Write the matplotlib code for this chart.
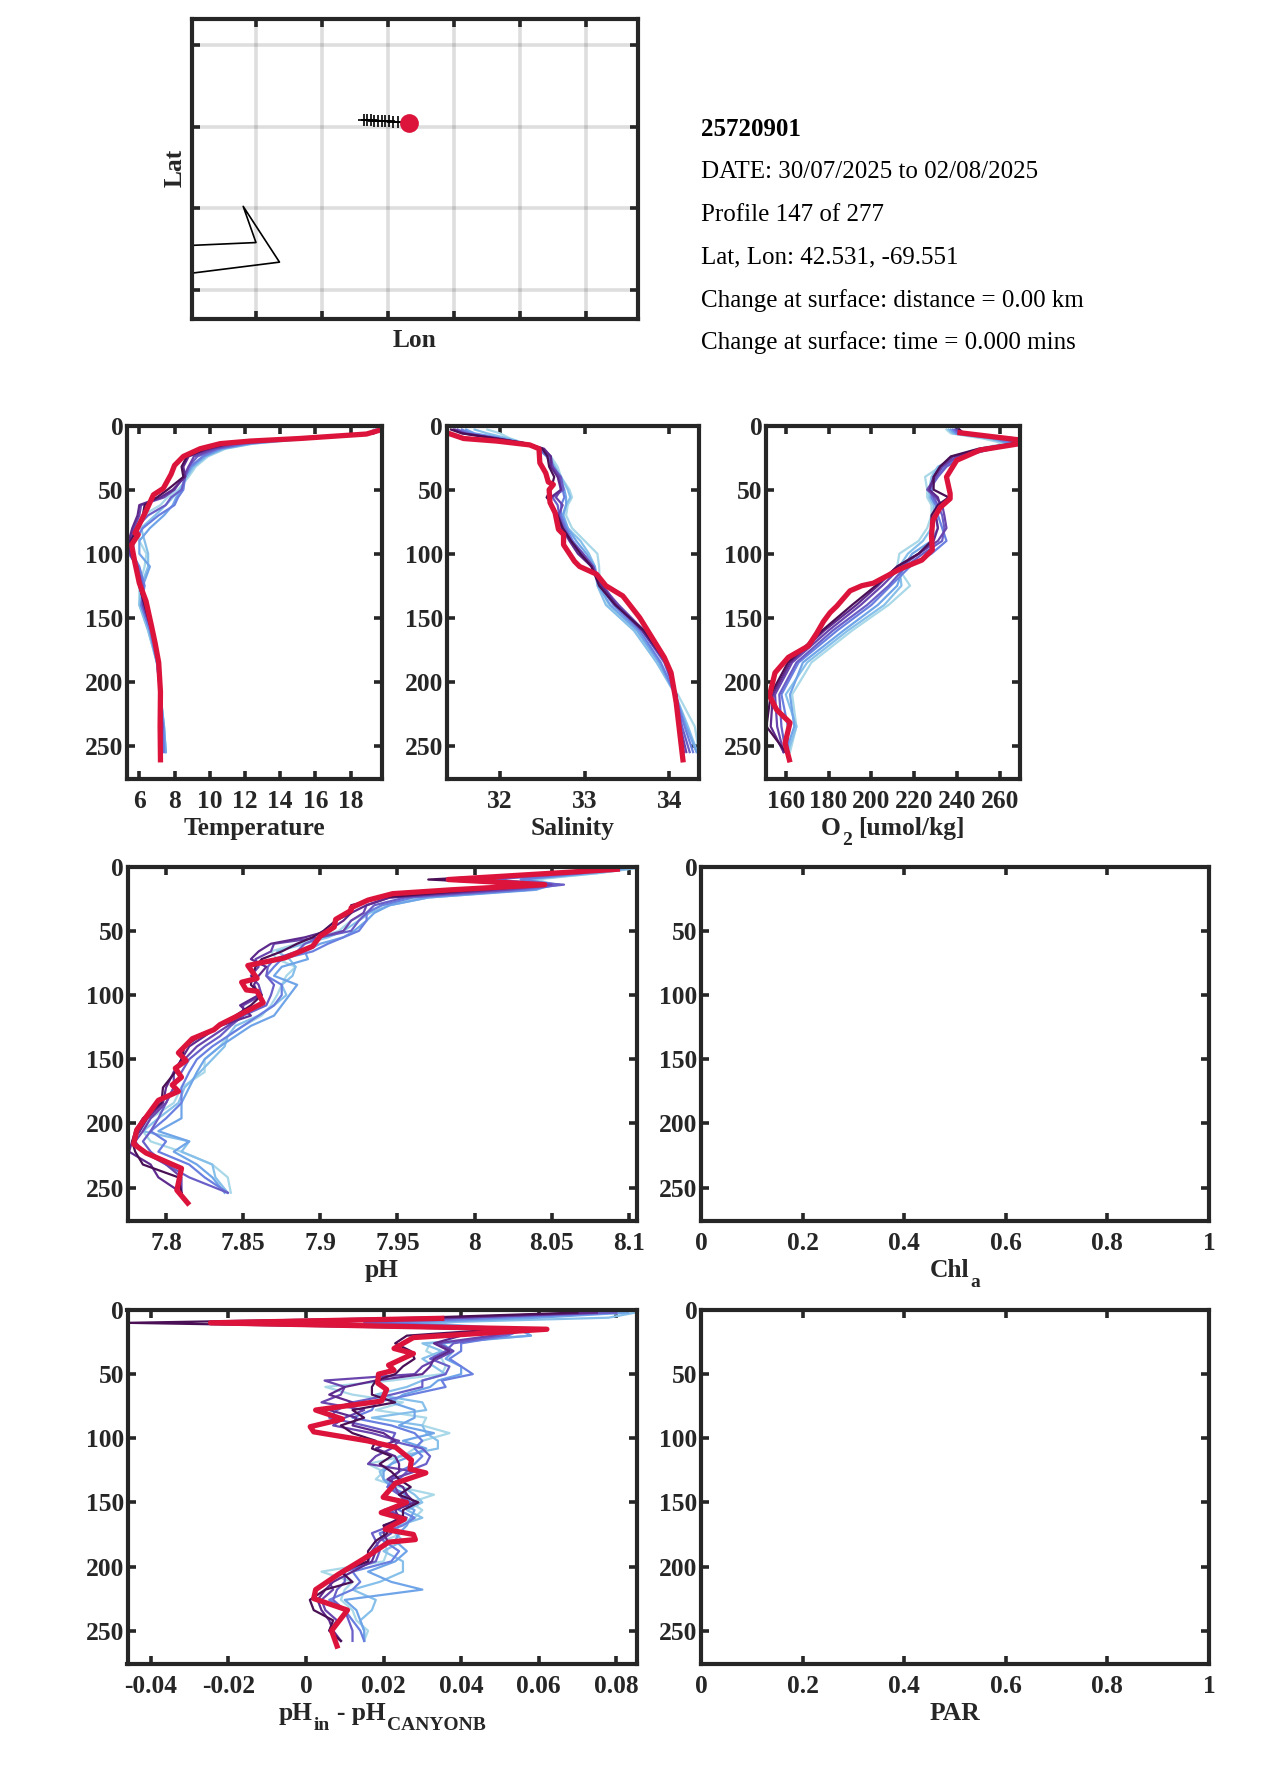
import matplotlib
matplotlib.use('Agg')
import matplotlib.pyplot as plt

plt.rcParams['font.family'] = ['Liberation Serif', 'DejaVu Serif']
plt.rcParams['font.weight'] = 'bold'

W, H = 1275, 1771
DARK = '#262626'
RED = '#dc143c'
FONT = 18.4
INFO_FONT = 18.0
# oldest (light blue) to newest (dark purple)
line_colors = ['#a9d8e8', '#86c0ea', '#6fa5e8', '#6a80e0', '#6a5fc8', '#6a45ae', '#5f2a8e', '#4a0f55']

depth_ticks = [0, 50, 100, 150, 200, 250]
max_depth = 276

# map panel
lon_ticks = [-69.92, -69.76, -69.60, -69.44, -69.28, -69.12]
lat_ticks = [41.3, 41.9, 42.5, 43.1]
track_lon = [-69.660, -69.652, -69.643, -69.635, -69.624, -69.616, -69.608, -69.598, -69.588, -69.576, -69.551]
track_lat = [42.550, 42.549, 42.548, 42.546, 42.544, 42.543, 42.541, 42.539, 42.537, 42.535, 42.531]
coast_lon = [-70.10, -69.921, -69.952, -69.864, -70.10]
coast_lat = [41.625, 41.649, 41.915, 41.505, 41.415]

info_lines = ['DATE: 30/07/2025 to 02/08/2025', 'Profile 147 of 277', 'Lat, Lon: 42.531, -69.551',
              'Change at surface: distance = 0.00 km', 'Change at surface: time = 0.000 mins']

# temperature, salinity, oxygen share these depths
upper_depth = [3, 6, 10, 14, 18, 24, 32, 40, 50, 56, 62, 70, 80, 90, 100, 110, 125, 140, 160, 185, 210, 235, 255]

temp_lines = [
    [19.3, 19.1, 15.8, 12.5, 10.9, 9.9, 9.2, 8.8, 8.2, 7.6, 7.2, 6.2, 5.9, 6.0, 6.4, 6.3, 6.0, 6.0, 6.5, 7.0, 7.2, 7.4, 7.5],
    [19.4, 19.0, 15.5, 12.4, 10.8, 9.8, 9.1, 8.7, 8.3, 7.9, 7.5, 6.9, 6.1, 6.3, 6.5, 6.5, 6.1, 6.0, 6.5, 7.0, 7.2, 7.4, 7.5],
    [19.5, 19.1, 15.3, 12.3, 10.7, 9.7, 9.0, 8.6, 8.4, 8.1, 7.9, 7.4, 6.6, 6.0, 6.0, 6.6, 6.2, 6.1, 6.6, 7.0, 7.2, 7.4, 7.5],
    [19.6, 19.2, 15.2, 12.1, 10.5, 9.6, 8.9, 8.6, 8.5, 8.2, 8.0, 7.1, 6.2, 5.7, 5.6, 6.0, 6.3, 6.1, 6.6, 7.0, 7.2, 7.35, 7.4],
    [19.6, 19.2, 15.0, 11.9, 10.4, 9.3, 8.8, 8.6, 8.4, 7.8, 7.5, 6.5, 5.8, 5.5, 5.4, 5.9, 6.2, 6.2, 6.7, 7.1, 7.2, 7.3, 7.3],
    [19.7, 19.2, 14.9, 11.5, 10.2, 9.1, 8.8, 8.5, 8.0, 7.4, 6.1, 6.0, 5.7, 5.4, 5.5, 5.9, 6.1, 6.2, 6.7, 7.1, 7.2, 7.3, 7.2],
    [19.7, 19.3, 14.8, 11.2, 10.0, 8.8, 8.5, 8.6, 7.9, 7.2, 6.0, 5.9, 5.6, 5.4, 5.5, 5.8, 6.0, 6.3, 6.7, 7.1, 7.2, 7.2, 7.2],
    [19.8, 19.3, 14.8, 11.0, 9.8, 8.7, 8.4, 8.5, 7.6, 7.0, 6.3, 6.2, 5.9, 5.5, 5.6, 5.8, 6.0, 6.3, 6.7, 7.1, 7.2, 7.2, 7.2],
]
temp_red_depth = [3, 6.5, 10, 12, 14, 18, 24, 31, 38, 49, 54, 66, 76, 84, 85, 93, 107, 123, 137, 157, 170, 185, 208, 235, 261]
temp_red = [19.77, 18.9, 15.1, 12.3, 10.6, 9.45, 8.5, 8.0, 7.8, 7.36, 6.8, 6.4, 6.04, 5.75, 5.94, 5.56, 5.75, 6.0, 6.38, 6.7, 6.9, 7.1, 7.2, 7.18, 7.2]

sal_lines = [
    [31.85, 32.0, 32.12, 32.3, 32.5, 32.6, 32.68, 32.72, 32.82, 32.85, 32.8, 32.78, 32.85, 33.0, 33.15, 33.17, 33.18, 33.28, 33.6, 33.85, 34.1, 34.3, 34.35],
    [31.7, 31.85, 32.1, 32.3, 32.48, 32.58, 32.65, 32.72, 32.8, 32.83, 32.78, 32.75, 32.8, 32.95, 33.05, 33.12, 33.15, 33.25, 33.58, 33.85, 34.07, 34.22, 34.33],
    [31.6, 31.7, 32.05, 32.3, 32.46, 32.56, 32.64, 32.7, 32.76, 32.78, 32.78, 32.74, 32.8, 32.9, 33.02, 33.12, 33.16, 33.3, 33.62, 33.88, 34.07, 34.2, 34.32],
    [31.55, 31.65, 32.0, 32.28, 32.45, 32.55, 32.62, 32.7, 32.74, 32.76, 32.72, 32.72, 32.78, 32.86, 32.98, 33.1, 33.18, 33.34, 33.65, 33.9, 34.07, 34.18, 34.28],
    [31.5, 31.6, 31.98, 32.28, 32.46, 32.58, 32.62, 32.72, 32.75, 32.62, 32.68, 32.7, 32.76, 32.84, 32.96, 33.08, 33.22, 33.38, 33.68, 33.94, 34.08, 34.15, 34.24],
    [31.47, 31.58, 31.97, 32.3, 32.5, 32.6, 32.62, 32.7, 32.72, 32.66, 32.74, 32.69, 32.74, 32.84, 32.98, 33.1, 33.2, 33.4, 33.7, 33.96, 34.08, 34.13, 34.2],
    [31.45, 31.56, 31.96, 32.32, 32.52, 32.6, 32.6, 32.68, 32.72, 32.6, 32.6, 32.66, 32.73, 32.82, 32.92, 33.08, 33.2, 33.37, 33.68, 33.96, 34.08, 34.12, 34.17],
    [31.42, 31.55, 31.95, 32.33, 32.5, 32.56, 32.58, 32.64, 32.6, 32.55, 32.62, 32.68, 32.74, 32.84, 32.95, 33.08, 33.17, 33.36, 33.7, 33.97, 34.08, 34.12, 34.16],
]
sal_red_depth = [5.5, 10, 12, 15, 18, 29, 37, 44, 46, 50, 60, 68, 81, 85, 93, 106, 110, 116, 125, 133, 150, 181, 193, 216, 261]
sal_red = [31.37, 31.57, 31.96, 32.35, 32.46, 32.47, 32.54, 32.57, 32.63, 32.58, 32.59, 32.65, 32.69, 32.75, 32.75, 32.88, 32.94, 33.14, 33.25, 33.45, 33.65, 33.94, 34.02, 34.08, 34.16]

oxy_lines = [
    [235, 237, 252, 262, 250, 238, 232, 225, 226, 226, 228, 228, 226, 222, 213, 212, 218, 208, 191, 172, 163, 165, 162],
    [236, 238, 255, 264, 252, 240, 231, 228, 227, 227, 229, 229, 228, 224, 217, 213, 214, 206, 189, 170, 160, 165, 161],
    [237, 239, 256, 265, 253, 241, 233, 229, 228, 228, 230, 230, 231, 228, 219, 215, 212, 203, 187, 168, 162, 164, 160],
    [238, 240, 258, 266, 255, 242, 234, 230, 228, 228, 230, 231, 233, 235, 228, 218, 209, 200, 184, 166, 158, 161, 161],
    [239, 241, 262, 267, 256, 243, 235, 231, 227, 229, 231, 233, 234, 233, 224, 216, 208, 198, 182, 165, 157, 158, 160],
    [240, 242, 265, 268, 257, 240, 233, 230, 226, 230, 233, 234, 235, 231, 222, 214, 205, 195, 180, 163, 155, 156, 159],
    [241, 243, 268, 267, 253, 238, 232, 229, 227, 231, 232, 230, 231, 229, 222, 212, 203, 193, 178, 162, 154, 153, 159],
    [241, 243, 267, 266, 250, 237, 232, 229, 229, 236, 231, 228, 228, 228, 222, 212, 202, 191, 177, 161, 153, 151, 160],
]
oxy_red_depth = [5.5, 11, 14, 19, 27, 40, 53, 57, 64, 74, 86, 97, 105, 112, 123, 125, 129, 141, 146, 153, 162, 172, 181, 193, 211, 222, 232, 248, 261]
oxy_red = [241.3, 268.5, 269.3, 250.7, 239.8, 235, 236.7, 236.7, 232, 228.6, 228, 228.4, 223.5, 213.3, 200.9, 195.5, 190, 183.8, 180.7, 177.6, 174.5, 170.6, 161.2, 155, 152.4, 155.8, 162, 159.7, 161.7]

ph_depth = [1, 5, 10, 14, 18, 24, 30, 36, 42, 50, 55, 60, 66, 72, 78, 85, 92, 100, 108, 116, 124, 132, 140, 150, 160, 172, 184, 196, 206, 214, 222, 232, 242, 254]
ph_lines = [
    [8.105, 8.08, 8.04, 8.052, 8.03, 7.965, 7.94, 7.93, 7.92, 7.912, 7.9, 7.885, 7.868, 7.872, 7.884, 7.878, 7.875, 7.872, 7.868, 7.862, 7.85, 7.84, 7.835, 7.825, 7.825, 7.81, 7.805, 7.79, 7.785, 7.79, 7.81, 7.83, 7.84, 7.842],
    [8.105, 8.08, 8.035, 8.05, 8.035, 7.97, 7.945, 7.932, 7.925, 7.915, 7.905, 7.89, 7.872, 7.88, 7.884, 7.882, 7.875, 7.878, 7.87, 7.86, 7.845, 7.84, 7.838, 7.83, 7.822, 7.812, 7.808, 7.795, 7.785, 7.815, 7.81, 7.83, 7.832, 7.84],
    [8.1, 8.075, 8.03, 8.05, 8.04, 7.97, 7.945, 7.935, 7.93, 7.922, 7.915, 7.9, 7.89, 7.892, 7.875, 7.87, 7.885, 7.88, 7.875, 7.87, 7.855, 7.845, 7.835, 7.825, 7.82, 7.815, 7.81, 7.81, 7.795, 7.815, 7.805, 7.82, 7.83, 7.838],
    [8.095, 8.07, 8.03, 8.055, 8.035, 7.96, 7.94, 7.93, 7.93, 7.925, 7.915, 7.905, 7.895, 7.875, 7.87, 7.865, 7.875, 7.875, 7.87, 7.86, 7.85, 7.84, 7.83, 7.82, 7.815, 7.81, 7.81, 7.8, 7.79, 7.8, 7.795, 7.815, 7.825, 7.84],
    [8.09, 8.07, 8.01, 8.058, 8.025, 7.955, 7.935, 7.93, 7.925, 7.92, 7.9, 7.89, 7.885, 7.87, 7.866, 7.865, 7.87, 7.868, 7.865, 7.85, 7.842, 7.835, 7.825, 7.815, 7.81, 7.805, 7.8, 7.795, 7.79, 7.785, 7.79, 7.8, 7.815, 7.84],
    [8.09, 8.06, 7.995, 8.05, 8.02, 7.945, 7.93, 7.928, 7.92, 7.915, 7.9, 7.87, 7.868, 7.858, 7.86, 7.855, 7.86, 7.862, 7.85, 7.85, 7.84, 7.83, 7.82, 7.812, 7.805, 7.805, 7.8, 7.79, 7.785, 7.78, 7.785, 7.8, 7.81, 7.81],
    [8.085, 8.055, 7.975, 8.045, 8.01, 7.945, 7.93, 7.92, 7.915, 7.905, 7.89, 7.868, 7.86, 7.855, 7.865, 7.86, 7.857, 7.86, 7.848, 7.855, 7.835, 7.825, 7.815, 7.81, 7.805, 7.8, 7.798, 7.788, 7.783, 7.778, 7.776, 7.79, 7.795, 7.81],
    [8.085, 8.05, 7.97, 8.04, 8.0, 7.94, 7.92, 7.92, 7.91, 7.902, 7.895, 7.885, 7.875, 7.862, 7.858, 7.856, 7.855, 7.862, 7.855, 7.845, 7.835, 7.822, 7.812, 7.81, 7.806, 7.798, 7.797, 7.785, 7.78, 7.778, 7.78, 7.785, 7.808, 7.81],
]
ph_red_depth = [2, 10, 14, 18, 21, 26, 32, 34, 41, 47, 54, 62, 71, 77, 87, 90, 96, 97, 106, 117, 123, 127, 134, 145, 151, 157, 164, 170, 175, 182, 205, 216, 223, 235, 252, 262]
ph_red = [8.0926, 7.983, 8.0455, 7.985, 7.947, 7.931, 7.92, 7.92, 7.91, 7.909, 7.9, 7.895, 7.877, 7.853, 7.859, 7.849, 7.852, 7.859, 7.863, 7.845, 7.835, 7.831, 7.817, 7.808, 7.813, 7.806, 7.81, 7.804, 7.808, 7.795, 7.781, 7.779, 7.787, 7.81, 7.807, 7.814]

diff_depth = [2, 6, 10, 15, 20, 26, 32, 38, 44, 50, 55, 60, 66, 72, 78, 84, 90, 96, 102, 108, 114, 120, 126, 132, 138, 144, 150, 156, 162, 168, 174, 180, 188, 196, 204, 212, 218, 226, 234, 242, 250, 258]
diff_lines = [
    [0.085, 0.05, 0.02, 0.05, 0.05, 0.032, 0.031, 0.035, 0.036, 0.035, 0.022, 0.005, 0.012, 0.025, 0.018, 0.031, 0.03, 0.037, 0.03, 0.028, 0.025, 0.016, 0.02, 0.018, 0.024, 0.033, 0.027, 0.03, 0.028, 0.022, 0.025, 0.02, 0.021, 0.02, 0.004, 0.012, 0.01, 0.009, 0.012, 0.013, 0.016, 0.015],
    [0.085, 0.078, 0.03, 0.055, 0.058, 0.03, 0.035, 0.03, 0.033, 0.036, 0.03, 0.026, 0.018, 0.03, 0.031, 0.017, 0.03, 0.031, 0.034, 0.034, 0.024, 0.022, 0.019, 0.02, 0.025, 0.028, 0.03, 0.026, 0.03, 0.024, 0.023, 0.025, 0.02, 0.025, 0.025, 0.019, 0.012, 0.018, 0.017, 0.014, 0.015, 0.015],
    [0.083, 0.06, 0.025, 0.055, 0.058, 0.035, 0.038, 0.036, 0.04, 0.04, 0.034, 0.032, 0.025, 0.022, 0.028, 0.028, 0.024, 0.033, 0.025, 0.031, 0.027, 0.022, 0.02, 0.02, 0.022, 0.026, 0.024, 0.028, 0.027, 0.026, 0.024, 0.023, 0.026, 0.023, 0.016, 0.022, 0.03, 0.01, 0.013, 0.014, 0.015, 0.015],
    [0.08, 0.05, 0.02, 0.056, 0.052, 0.04, 0.04, 0.037, 0.04, 0.043, 0.035, 0.036, 0.027, 0.018, 0.017, 0.012, 0.022, 0.028, 0.03, 0.028, 0.03, 0.028, 0.024, 0.022, 0.021, 0.026, 0.025, 0.024, 0.028, 0.025, 0.019, 0.02, 0.024, 0.022, 0.012, 0.014, 0.012, 0.006, 0.01, 0.012, 0.014, 0.015],
    [0.08, 0.04, 0.015, 0.058, 0.05, 0.038, 0.036, 0.032, 0.037, 0.036, 0.03, 0.03, 0.022, 0.012, 0.008, 0.006, 0.015, 0.023, 0.022, 0.03, 0.032, 0.031, 0.026, 0.024, 0.021, 0.024, 0.027, 0.022, 0.024, 0.022, 0.017, 0.018, 0.019, 0.018, 0.01, 0.01, 0.008, 0.007, 0.01, 0.011, 0.012, 0.012],
    [0.075, 0.04, 0.0, 0.055, 0.048, 0.034, 0.038, 0.034, 0.03, 0.028, 0.0048, 0.01, 0.009, 0.004, 0.015, 0.01, 0.007, 0.017, 0.024, 0.022, 0.018, 0.016, 0.028, 0.022, 0.023, 0.024, 0.026, 0.02, 0.026, 0.02, 0.022, 0.019, 0.017, 0.016, 0.009, 0.006, 0.007, 0.004, 0.005, 0.008, 0.006, 0.009],
    [0.075, 0.035, -0.02, 0.05, 0.04, 0.033, 0.037, 0.033, 0.032, 0.03, 0.018, 0.01, 0.006, 0.012, 0.006, 0.013, 0.012, 0.02, 0.023, 0.018, 0.023, 0.024, 0.024, 0.021, 0.025, 0.026, 0.028, 0.023, 0.024, 0.021, 0.02, 0.021, 0.018, 0.017, 0.012, 0.007, 0.005, 0.003, 0.004, 0.006, 0.007, 0.009],
    [0.07, 0.03, -0.046, 0.05, 0.026, 0.023, 0.027, 0.028, 0.025, 0.023, 0.018, 0.017, 0.017, 0.023, 0.012, 0.015, 0.009, 0.012, 0.018, 0.017, 0.022, 0.019, 0.022, 0.024, 0.027, 0.024, 0.029, 0.025, 0.025, 0.02, 0.021, 0.018, 0.016, 0.016, 0.009, 0.012, 0.005, 0.001, 0.002, 0.007, 0.006, 0.009],
]
diff_red_depth = [6.5, 10, 15, 21.5, 30, 34, 43, 47, 50, 57, 62, 71, 78, 85, 91, 95, 102, 107, 117, 124, 127, 135, 146, 150, 158, 163, 171, 175, 179, 181, 194, 206, 218, 225, 234, 250, 262]
diff_red = [0.035, -0.0246, 0.0621, 0.0277, 0.0227, 0.0277, 0.0213, 0.0227, 0.0187, 0.0185, 0.0208, 0.0195, 0.0025, 0.0094, 0.0011, 0.002, 0.0158, 0.0231, 0.0272, 0.0268, 0.0309, 0.0231, 0.0199, 0.0259, 0.0194, 0.0254, 0.0204, 0.0277, 0.0282, 0.0213, 0.0149, 0.0084, 0.0025, 0.002, 0.0107, 0.0066, 0.008]


def make_axes(left, right, top, bottom):
    # positions given in pixels from the top left corner
    ax = fig.add_axes([left / W, 1 - bottom / H, (right - left) / W, (bottom - top) / H])
    for side in ax.spines.values():
        side.set_linewidth(3.0)
        side.set_color(DARK)
    ax.tick_params(direction='in', length=5.5, width=2.6, color=DARK, top=True, right=True,
                   labelsize=FONT, labelcolor=DARK, pad=8)
    ax.tick_params(axis='y', pad=2.5)
    return ax


def under_label(pos, pieces, offset=56):
    # axis label drawn piece by piece so the subscripts can sit low like the original
    left, right, top, bottom = pos
    base = 1 - (bottom + offset) / H
    renderer = fig.canvas.get_renderer()
    items = []
    total = 0
    for label, is_sub, gap in pieces:
        size = 14 if is_sub else FONT
        drop = 10 if is_sub else 0
        t = fig.text(0, base - drop / H, label, fontsize=size, fontweight='bold', color=DARK, va='baseline')
        width = t.get_window_extent(renderer).width
        items.append((t, total + gap))
        total += gap + width
    start = (left + right) / 2 - total / 2
    for t, shift in items:
        t.set_x((start + shift) / W)


def profile_axes(pos, xlim, xticks, xticklabels, pieces):
    ax = make_axes(*pos)
    ax.set_xlim(xlim)
    ax.set_ylim(max_depth, 0)
    ax.set_xticks(xticks)
    ax.set_xticklabels(xticklabels)
    ax.set_yticks(depth_ticks)
    under_label(pos, pieces)
    return ax


def draw_lines(ax, depth, lines, red_depth, red):
    for color, vals in zip(line_colors, lines):
        ax.plot(vals, depth, color=color, lw=1.6, solid_joinstyle='round')
    ax.plot(red, red_depth, color=RED, lw=3.8, solid_joinstyle='round')


fig = plt.figure(figsize=(W / 100, H / 100), dpi=100)

# map
map_pos = (191.7, 637.7, 18.5, 319)
ax = make_axes(*map_pos)
ax.set_xlim(-70.0768, -68.9956)
ax.set_ylim(41.087, 43.296)
ax.set_xticks(lon_ticks)
ax.set_yticks(lat_ticks)
ax.set_xticklabels([])
ax.set_yticklabels([])
ax.grid(True, color='black', alpha=0.13, lw=2.6)
ax.set_axisbelow(True)
ax.plot(coast_lon, coast_lat, color='black', lw=1.2)
ax.plot(track_lon, track_lat, color='black', lw=1.4, marker='+', ms=8, mew=1.2)
ax.plot(track_lon[-1], track_lat[-1], 'o', color=RED, ms=13.5, mew=0)
under_label(map_pos, [('Lon', False, 0)], offset=28)
fig.text(175.5 / W, 1 - 168 / H, 'Lat', fontsize=FONT, fontweight='bold', color=DARK, rotation=90, ha='center', va='center')

# text block
fig.text(701 / W, 1 - 129 / H, '25720901', fontsize=INFO_FONT, fontweight='bold', color='black', va='center')
for i, line in enumerate(info_lines):
    fig.text(701 / W, 1 - (172 + 42.7 * i) / H, line, fontsize=INFO_FONT, fontweight='normal', color='black', va='center')

# first row
ax = profile_axes((127, 382, 425.7, 779), (5.3, 19.78), range(6, 20, 2),
                  ['6', '8', '10', '12', '14', '16', '18'], [('Temperature', False, 0)])
draw_lines(ax, upper_depth, temp_lines, temp_red_depth, temp_red)

ax = profile_axes((446.7, 699, 425.7, 779), (31.37, 34.35), [32, 33, 34], ['32', '33', '34'], [('Salinity', False, 0)])
draw_lines(ax, upper_depth, sal_lines, sal_red_depth, sal_red)

ax = profile_axes((766, 1020, 425.7, 779), (150.8, 269.3), range(160, 280, 20),
                  ['160', '180', '200', '220', '240', '260'],
                  [('O', False, 0), ('2', True, 1), ('[umol/kg]', False, 7)])
draw_lines(ax, upper_depth, oxy_lines, oxy_red_depth, oxy_red)

# second row
ax = profile_axes((127.5, 636.5, 866.7, 1221), (7.775, 8.105), [7.8, 7.85, 7.9, 7.95, 8, 8.05, 8.1],
                  ['7.8', '7.85', '7.9', '7.95', '8', '8.05', '8.1'], [('pH', False, 0)])
draw_lines(ax, ph_depth, ph_lines, ph_red_depth, ph_red)

frac_ticks = [0, 0.2, 0.4, 0.6, 0.8, 1]
frac_labels = ['0', '0.2', '0.4', '0.6', '0.8', '1']
profile_axes((701, 1209, 866.7, 1221), (0, 1), frac_ticks, frac_labels, [('Chl', False, 0), ('a', True, 1)])

# third row
ax = profile_axes((127.5, 636.5, 1310, 1664), (-0.046, 0.0852), [-0.04, -0.02, 0, 0.02, 0.04, 0.06, 0.08],
                  ['-0.04', '-0.02', '0', '0.02', '0.04', '0.06', '0.08'],
                  [('pH', False, 0), ('in', True, 1), ('- pH', False, 7), ('CANYONB', True, 1)])
draw_lines(ax, diff_depth, diff_lines, diff_red_depth, diff_red)

profile_axes((701, 1209, 1310, 1664), (0, 1), frac_ticks, frac_labels, [('PAR', False, 0)])

fig.savefig('out.png', dpi=100, facecolor='white')
